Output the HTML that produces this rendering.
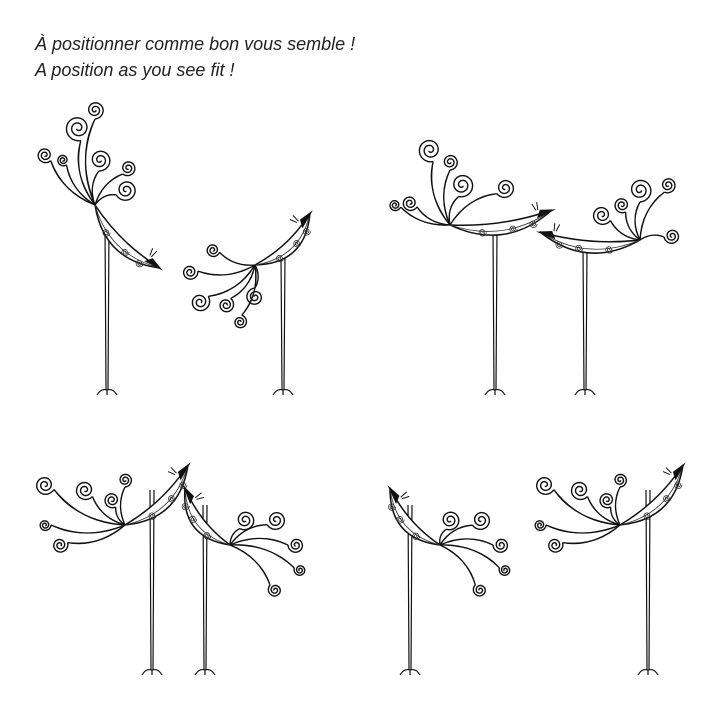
<!DOCTYPE html>
<html><head><meta charset="utf-8"><style>
body{margin:0;background:#fff;width:720px;height:720px;overflow:hidden}
.cap{position:absolute;left:35px;font:italic 18px "Liberation Sans",sans-serif;color:#222}
svg{position:absolute;left:0;top:0}
</style></head><body>
<div class="cap" style="top:34px">À positionner comme bon vous semble !</div>
<div class="cap" style="top:60px">A position as you see fit !</div>
<svg id="art" width="720" height="720"></svg>
<script>
const birdJoints=[[95,205],[255,265],[450,225],[640,240],[125,525],[230,545],[440,545],[620,525]];
const birdHeads=[[160,268],[310,213],[552,210],[540,232],[188,465],[185,488],[390,488],[683,465]];
const birdLegs=[[107,225,395],[283,255,395],[495,232,395],[585,248,395],[152,490,675],[205,505,675],[410,505,675],[648,490,675]];
const birdSpirals=[
[[78,128,13],[100,160,11],[126,190,11],[45,155,8],[63,160,6],[128,168,8],[95,110,9]],
[[190,272,8],[200,302,10],[226,305,8],[255,297,9],[240,322,7],[213,250,7]],
[[430,150,12],[410,203,8],[395,205,6],[462,185,12],[505,188,10],[450,162,8]],
[[640,190,12],[668,185,8],[602,215,10],[672,236,8],[622,205,8]],
[[45,485,10],[85,490,10],[112,500,8],[60,545,8],[45,525,6],[125,480,7]],
[[245,520,10],[276,520,10],[296,545,8],[275,590,7],[300,570,6]],
[[450,520,10],[481,520,10],[501,545,8],[480,590,7],[505,570,6]],
[[545,485,10],[580,490,10],[607,500,8],[555,545,8],[540,525,6],[620,480,7]]
];
const NS="http://www.w3.org/2000/svg";
const svg=document.getElementById('art');
function mk(tag,attrs,parent){const e=document.createElementNS(NS,tag);for(const k in attrs)e.setAttribute(k,attrs[k]);parent.appendChild(e);return e;}
function spiralPath(cx,cy,R,start,dir){let d='';const n=60,turns=2.2;for(let i=0;i<=n;i++){const t=i/n;const a=start+dir*t*turns*2*Math.PI;const r=R*(1-0.88*t);const x=cx+r*Math.cos(a),y=cy+r*Math.sin(a);d+=(i?'L':'M')+x.toFixed(1)+' '+y.toFixed(1);}return d;}
birdJoints.forEach((J,b)=>{
  const H=birdHeads[b],L=birdLegs[b];
  const g=mk('g',{},svg);
  
  
  birdSpirals[b].forEach(s=>{
    const [cx,cy,R]=s;
    const start=Math.atan2(J[1]-cy,J[0]-cx);
    const dir=(cx<J[0])?1:-1;
    const ox=cx+R*Math.cos(start),oy=cy+R*Math.sin(start);
    const p=mk('path',{d:spiralPath(cx,cy,R,start,dir),fill:'none',stroke:'#111','stroke-width':1.4},g);
    
    
    const mx=(ox+J[0])/2+(cy-J[1])*0.2,my=(oy+J[1])/2-(cx-J[0])*0.2;
    const st=mk('path',{d:`M${J[0]} ${J[1]}Q${mx} ${my} ${ox} ${oy}`,fill:'none',stroke:'#111','stroke-width':1.3},g);
    
    
    const st2=mk('path',{d:`M${J[0]} ${J[1]}Q${mx+(cx-J[0])*0.08} ${my+(cy-J[1])*0.08} ${ox} ${oy}`,fill:'none',stroke:'#111','stroke-width':0.9},g);
    
    
  });
  const lx=L[0];
  const leg=mk('path',{d:`M${lx-2} ${L[1]}L${lx-1} ${L[2]-5}M${lx+2} ${L[1]}L${lx+1} ${L[2]-5}`,stroke:'#111','stroke-width':1.2,fill:'none'},g);
  
  
  const ft=mk('path',{d:`M${lx-10} ${L[2]}q4 -7 10 -5q6 -2 10 5M${lx} ${L[2]-5}L${lx} ${L[2]}`,stroke:'#111','stroke-width':1.2,fill:'none'},g);
  
  
  const mx=(J[0]+H[0])/2,my=(J[1]+H[1])/2;
  let nx=-(H[1]-J[1]),ny=H[0]-J[0];const len=Math.hypot(nx,ny);nx/=len;ny/=len;
  if(ny<0){nx=-nx;ny=-ny;}
  const body=mk('path',{d:`M${J[0]} ${J[1]}Q${mx+nx*34} ${my+ny*34} ${H[0]} ${H[1]}Q${mx+nx*10} ${my+ny*10} ${J[0]} ${J[1]}Z`,fill:'#fff',stroke:'#111','stroke-width':1.5},g);
  
  
  const inner=mk('path',{d:`M${J[0]} ${J[1]}Q${mx+nx*26} ${my+ny*26} ${H[0]} ${H[1]}`,fill:'none',stroke:'#333','stroke-width':0.8},g);
  
  
  [[-0.2,12],[0.1,13],[0.3,11]].forEach(o=>{
    const orn=mk('path',{d:spiralPath(mx+(H[0]-J[0])*o[0]+nx*o[1],my+(H[1]-J[1])*o[0]+ny*o[1],4,0,1),fill:'none',stroke:'#333','stroke-width':0.8},g);
    
    
  });
  const dl=Math.hypot(H[0]-J[0],H[1]-J[1]);const dx=(H[0]-J[0])/dl,dy=(H[1]-J[1])/dl;
  const hb=mk('path',{d:`M${H[0]-dx*16+nx*6} ${H[1]-dy*16+ny*6}L${H[0]+dx*4} ${H[1]+dy*4}L${H[0]-dx*12-nx*2} ${H[1]-dy*12-ny*2}Z`,fill:'#111'},g);
  
  
  const cr=mk('path',{d:`M${H[0]-dx*14-nx*2} ${H[1]-dy*14-ny*2}l${-nx*8} ${-ny*8}M${H[0]-dx*16-nx*2} ${H[1]-dy*16-ny*2}l${-nx*7-dx*3} ${-ny*7-dy*3}`,stroke:'#111','stroke-width':1,fill:'none'},g);
  
  
});
</script>
</body></html>
